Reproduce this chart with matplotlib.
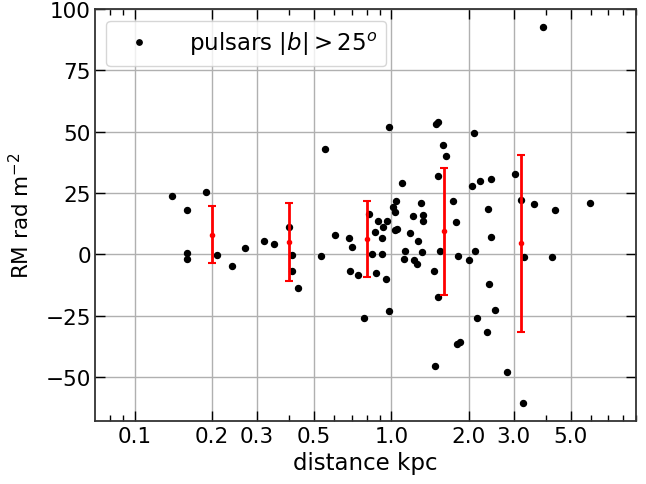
import matplotlib
matplotlib.use('Agg')
import matplotlib.pyplot as plt
from matplotlib.ticker import FixedLocator, FixedFormatter, NullFormatter

# pulsar distances (kpc) and rotation measures (rad m^-2)
dist = [0.140, 0.160, 0.160, 0.160, 0.189, 0.210, 0.240, 0.269, 0.320, 0.350,
        0.400, 0.410, 0.409, 0.431, 0.531, 0.551, 0.601, 0.681, 0.692, 0.702,
        0.739, 0.780, 0.821, 0.843, 0.861, 0.871, 0.890, 0.920, 0.920, 0.930,
        0.953, 0.962, 0.982, 0.982, 1.012, 1.030, 1.043, 1.030, 1.052, 1.101,
        1.121, 1.134, 1.183, 1.211, 1.226, 1.263, 1.275, 1.302, 1.325, 1.333,
        1.321, 1.463, 1.477, 1.495, 1.526, 1.517, 1.521, 1.553, 1.596, 1.636,
        1.745, 1.778, 1.798, 1.843, 1.815, 2.003, 2.060, 2.103, 2.111, 2.153,
        2.214, 2.350, 2.370, 2.393, 2.440, 2.451, 2.533, 2.822, 3.040, 3.210,
        3.260, 3.277, 3.600, 3.900, 4.240, 4.350, 5.940]
rm = [23.8, 17.9, 0.7, -2.0, 25.3, -0.3, -4.9, 2.7, 5.5, 4.0,
      11.1, -0.3, -7.0, -13.9, -0.8, 42.9, 7.9, 6.6, -7.0, 3.1,
      -8.3, -25.8, 16.3, 0.0, 9.1, -7.7, 13.4, 6.6, 0.0, 11.1,
      -10.0, 13.4, -23.1, 51.8, 19.1, 17.1, 21.9, 10.0, 10.5, 29.1,
      -1.9, 1.4, 8.7, 15.6, -2.3, -3.8, 5.5, 20.9, 16.0, 13.7,
      1.1, -7.0, -45.6, 53.2, 53.8, 32.0, -17.6, 1.4, 44.7, 39.9,
      21.9, 13.0, -36.8, -35.9, -0.8, -2.5, 27.7, 49.3, 1.2, -26.1,
      29.9, -31.8, 18.6, -12.0, 30.9, 7.0, -22.7, -48.1, 32.8, 22.3,
      -60.7, -1.1, 20.5, 92.7, -1.1, 18.2, 20.9]

# binned means
bin_d = [0.2, 0.4, 0.8, 1.6, 3.2]
bin_mean = [8.0, 5.2, 6.3, 9.3, 4.4]
bin_err = [11.6, 15.9, 15.5, 26.0, 36.2]

xticks = [0.1, 0.2, 0.3, 0.5, 1.0, 2.0, 3.0, 5.0]
xticklabels = ['0.1', '0.2', '0.3', '0.5', '1.0', '2.0', '3.0', '5.0']
xminor = [0.08, 0.09, 0.4, 0.6, 0.7, 0.8, 0.9, 4.0, 6.0, 7.0, 8.0, 9.0]
yticks = [-50, -25, 0, 25, 50, 75, 100]

fig = plt.figure(figsize=(6.46, 4.85), dpi=100)
ax = fig.add_axes([0.147, 0.130, 0.838, 0.849])

ax.plot(dist, rm, 'o', color='k', ms=4.3, label=r'pulsars $|b|>25^o$', zorder=3)
ax.errorbar(bin_d, bin_mean, yerr=bin_err, fmt='o', color='red', ms=3,
            elinewidth=2, capsize=3, capthick=1.5, zorder=4)

ax.set_xscale('log')
ax.set_xlim(0.07, 9)
ax.set_ylim(-68, 100)
ax.xaxis.set_major_locator(FixedLocator(xticks))
ax.xaxis.set_major_formatter(FixedFormatter(xticklabels))
ax.xaxis.set_minor_locator(FixedLocator(xminor))
ax.xaxis.set_minor_formatter(NullFormatter())
ax.set_yticks(yticks)

ax.tick_params(which='both', direction='in', top=True, right=True, labelsize=15.5)
ax.tick_params(which='major', length=7, width=1)
ax.tick_params(which='minor', length=4, width=1)
ax.tick_params(axis='y', pad=3)
ax.grid(True, which='major', color='#b0b0b0', lw=1)
for s in ax.spines.values():
    s.set_color('#333333')
    s.set_linewidth(1.3)

ax.set_xlabel('distance kpc', fontsize=16.5, labelpad=4)
ax.set_ylabel(r'RM rad m$^{-2}$', fontsize=15.5, labelpad=9)
ax.legend(loc='upper left', fontsize=16.5, numpoints=1, handletextpad=1.2,
          borderpad=0.4, markerscale=0.9)

fig.savefig('out.png', dpi=100)
